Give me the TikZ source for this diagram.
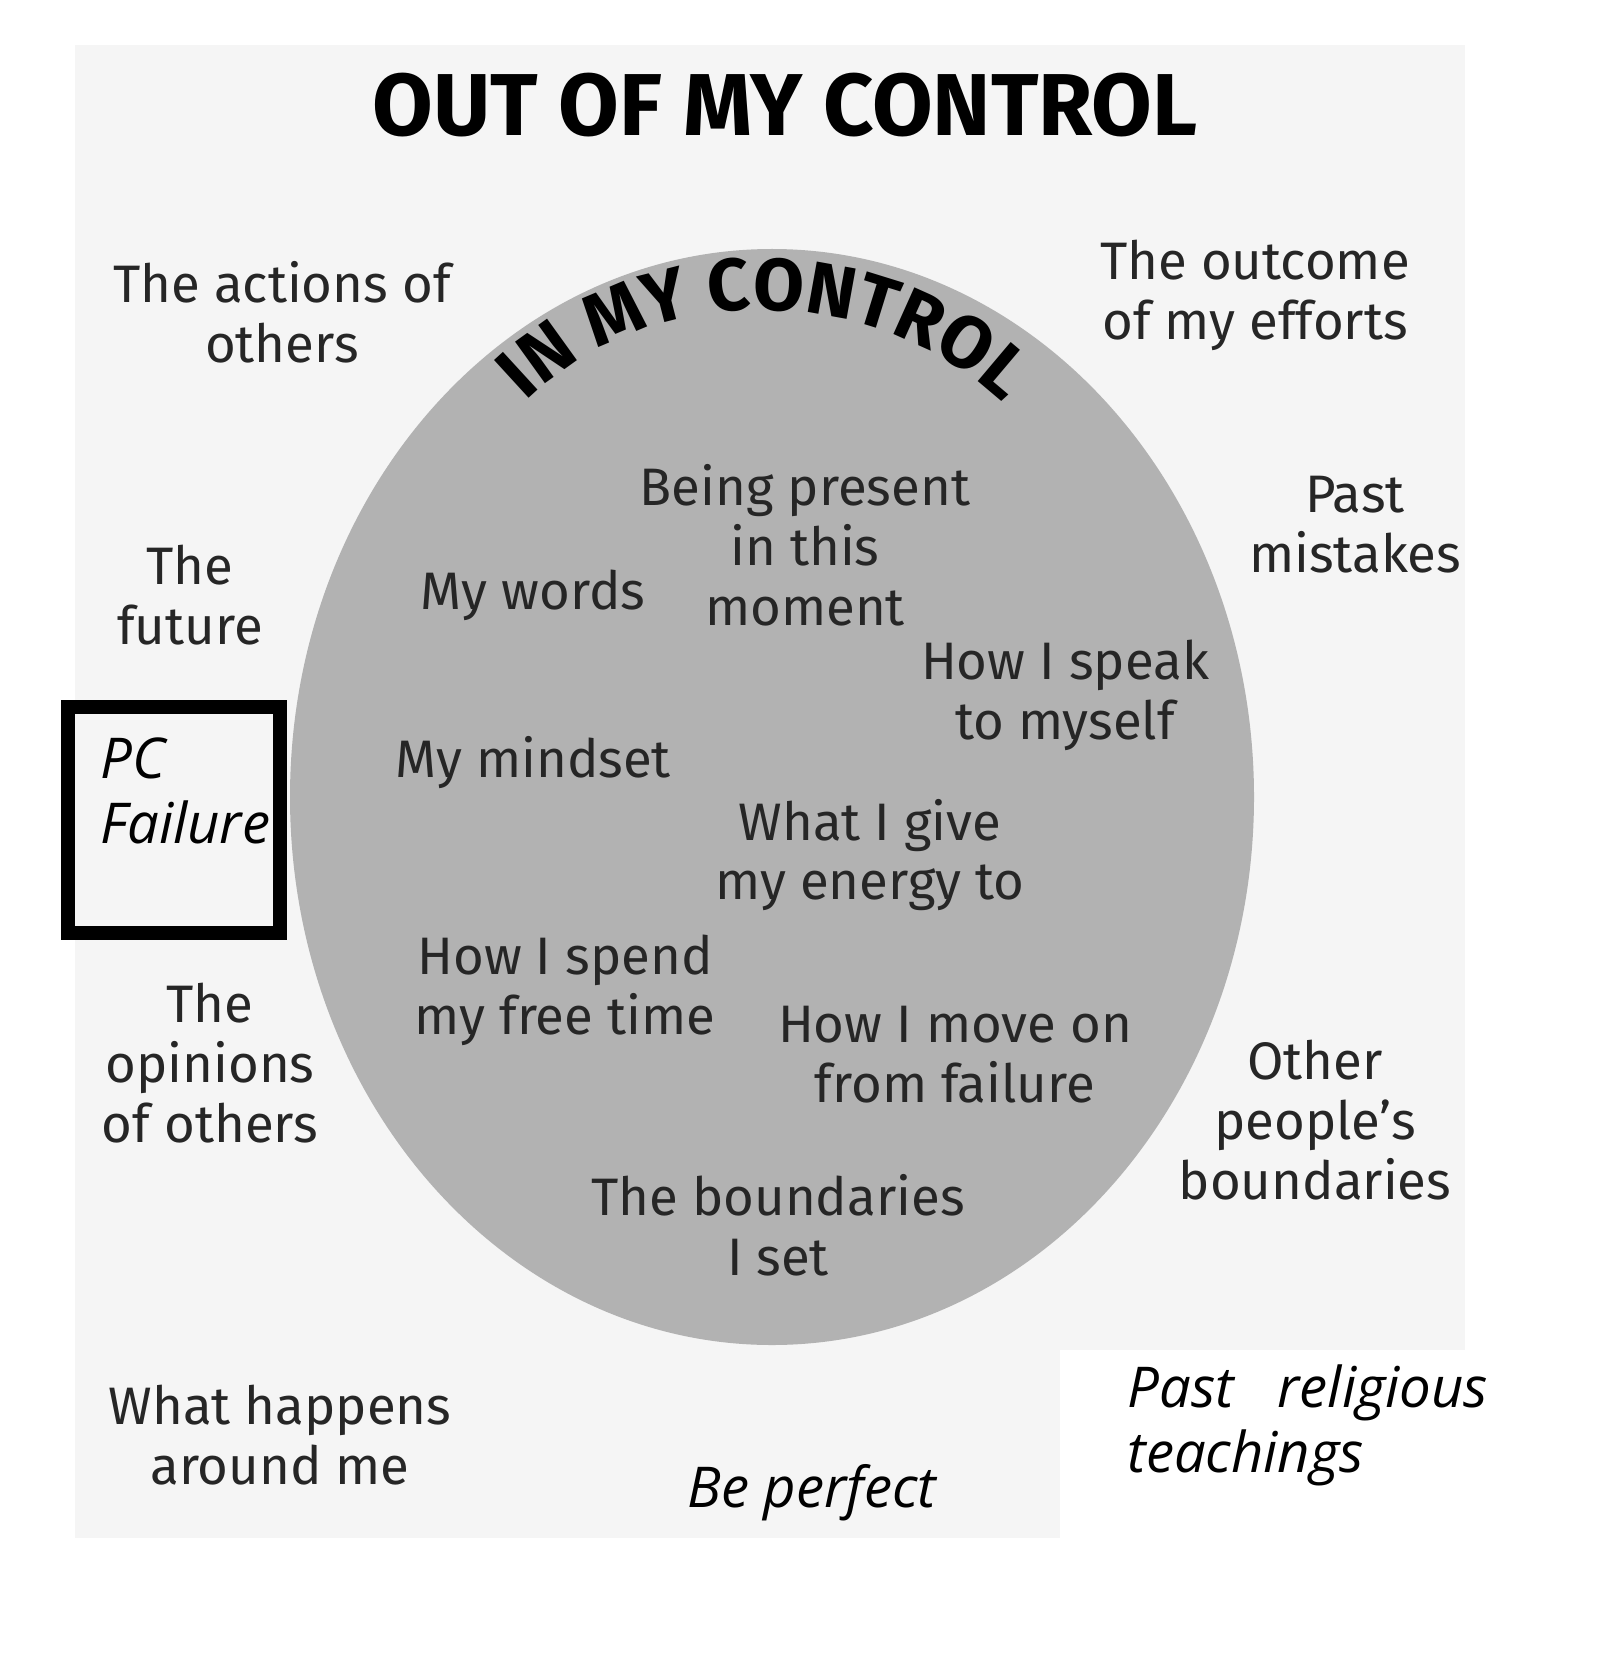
\documentclass[tikz,border=0pt]{standalone}
\usepackage{fontspec}
\setmainfont{Fira Sans}
\newfontfamily\itfont{Open Sans}
\usetikzlibrary{decorations.text}
\begin{document}
\begin{tikzpicture}[x=0.01cm,y=-0.01cm,
  lbl/.style={align=center,font=\fontsize{15}{17}\selectfont,text=black!85},
  itl/.style={font=\itfont\itshape\fontsize{16}{18.5}\selectfont}]
\useasboundingbox (0,0) rectangle (1618,1655);
\fill[white] (0,0) rectangle (1618,1655);
\fill[black!4] (75,45) rectangle (1465,1538);
\fill[white] (1060,1350) rectangle (1490,1560);
\fill[black!30] (772,797) ellipse [x radius=482, y radius=548];
\node[font=\bfseries\fontsize{25}{28}\selectfont] (title) at (785,105) {OUT OF MY CONTROL};
\path[decorate,decoration={text along path,text align=center,
  text={|\bfseries\fontsize{21}{24}\selectfont|IN MY CONTROL}}]
  (480,460) .. controls (600,260) and (920,260) .. (1050,460);
\draw[line width=4pt] (68,707) rectangle (280,933);
\node[itl,align=left,anchor=north west] (pc) at (88,725) {PC\\Failure};
\node[lbl] (a1) at (282,312) {The actions of\\others};
\node[lbl] (a2) at (1255,295) {The outcome\\of my efforts};
\node[lbl] (a3) at (1355,525) {Past\\mistakes};
\node[lbl] (a4) at (190,595) {The\\future};
\node[lbl] (a5) at (210,1063) {The\\opinions\\of others};
\node[lbl] (a6) at (1315,1120) {Other\\people's\\boundaries};
\node[lbl] (a7) at (280,1435) {What happens\\around me};
\node[lbl] (b1) at (805,545) {Being present\\in this\\moment};
\node[lbl] (b2) at (533,595) {My words};
\node[lbl] (b3) at (1065,695) {How I speak\\to myself};
\node[lbl] (b4) at (533,763) {My mindset};
\node[lbl] (b5) at (870,855) {What I give\\my energy to};
\node[lbl] (b6) at (565,990) {How I spend\\my free time};
\node[lbl] (b7) at (955,1055) {How I move on\\from failure};
\node[lbl] (b8) at (778,1225) {The boundaries\\I set};
\node[itl] (c1) at (812,1493) {Be perfect};
\node[itl,align=left,anchor=west] (c2) at (1115,1425) {Past\ \ \ religious\\teachings};
\end{tikzpicture}
\end{document}
